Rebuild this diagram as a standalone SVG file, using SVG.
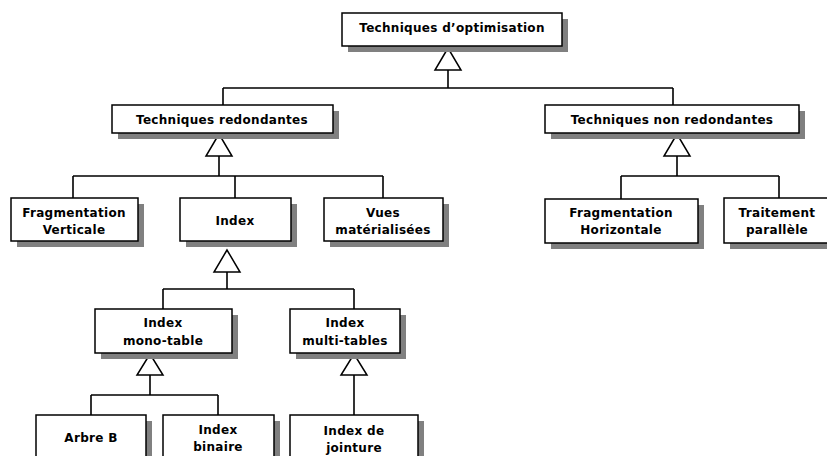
<svg xmlns="http://www.w3.org/2000/svg" width="827" height="456" viewBox="0 0 827 456">
<style>
.box{fill:#fff;stroke:#000;stroke-width:1.5}
.sh{fill:#808080}
.ln{fill:none;stroke:#000;stroke-width:1.6}
.tri{fill:#fff;stroke:#000;stroke-width:1.5}
text{font-family:"DejaVu Sans",Verdana,sans-serif;font-weight:bold;font-size:12px;letter-spacing:0.3px;text-anchor:middle;fill:#000}
</style>
<rect width="827" height="456" fill="#fff"/>
<g id="connectors">
<path class="ln" d="M448,70V88M223,88H673M223,88V105M673,88V105"/>
<polygon class="tri" points="448,48 435,70 461,70"/>
<path class="ln" d="M219,156V176M73,176H383M73,176V198M235,176V198M383,176V198"/>
<polygon class="tri" points="219,134 206,156 232,156"/>
<path class="ln" d="M677,156V176M621,176H779M621,176V199M779,176V198"/>
<polygon class="tri" points="677,134 664,156 690,156"/>
<path class="ln" d="M227,272V289M163,289H354M163,289V309M354,289V309"/>
<polygon class="tri" points="227,250 214,272 240,272"/>
<path class="ln" d="M150,375V395M91,395H218M91,395V415M218,395V415"/>
<polygon class="tri" points="150,354 137,375 163,375"/>
<path class="ln" d="M354,375V415"/>
<polygon class="tri" points="354,354 341,375 367,375"/>
</g>
<g id="n-optim">
<rect class="sh" x="348" y="19" width="220" height="33"/>
<rect class="box" x="342" y="13" width="220" height="33"/>
<text x="452" y="32">Techniques d’optimisation</text>
</g>
<g id="n-red">
<rect class="sh" x="118" y="111" width="221" height="28"/>
<rect class="box" x="112" y="105" width="221" height="28"/>
<text x="222" y="124">Techniques redondantes</text>
</g>
<g id="n-nonred">
<rect class="sh" x="551" y="111" width="254" height="28"/>
<rect class="box" x="545" y="105" width="254" height="28"/>
<text x="672" y="124">Techniques non redondantes</text>
</g>
<g id="n-fv">
<rect class="sh" x="17" y="204" width="127" height="43"/>
<rect class="box" x="11" y="198" width="127" height="43"/>
<text x="74" y="217">Fragmentation</text>
<text x="74" y="234">Verticale</text>
</g>
<g id="n-index">
<rect class="sh" x="186" y="204" width="111" height="43"/>
<rect class="box" x="180" y="198" width="111" height="43"/>
<text x="235" y="225">Index</text>
</g>
<g id="n-vues">
<rect class="sh" x="330" y="204" width="119" height="43"/>
<rect class="box" x="324" y="198" width="119" height="43"/>
<text x="383" y="217">Vues</text>
<text x="383" y="234">matérialisées</text>
</g>
<g id="n-fh">
<rect class="sh" x="551" y="205" width="153" height="44"/>
<rect class="box" x="545" y="199" width="153" height="44"/>
<text x="621" y="217">Fragmentation</text>
<text x="621" y="234">Horizontale</text>
</g>
<g id="n-trait">
<rect class="sh" x="730" y="204" width="110" height="45"/>
<rect class="box" x="724" y="198" width="110" height="45"/>
<text x="777" y="217">Traitement</text>
<text x="777" y="234">parallèle</text>
</g>
<g id="n-mono">
<rect class="sh" x="101" y="315" width="137" height="44"/>
<rect class="box" x="95" y="309" width="137" height="44"/>
<text x="163" y="327">Index</text>
<text x="163" y="345">mono-table</text>
</g>
<g id="n-multi">
<rect class="sh" x="296" y="315" width="110" height="44"/>
<rect class="box" x="290" y="309" width="110" height="44"/>
<text x="345" y="327">Index</text>
<text x="345" y="345">multi-tables</text>
</g>
<g id="n-arbre">
<rect class="sh" x="42" y="421" width="110" height="50"/>
<rect class="box" x="36" y="415" width="110" height="50"/>
<text x="91" y="442">Arbre B</text>
</g>
<g id="n-binaire">
<rect class="sh" x="169" y="421" width="111" height="50"/>
<rect class="box" x="163" y="415" width="111" height="50"/>
<text x="218" y="434">Index</text>
<text x="218" y="451">binaire</text>
</g>
<g id="n-jointure">
<rect class="sh" x="296" y="421" width="128" height="50"/>
<rect class="box" x="290" y="415" width="128" height="50"/>
<text x="354" y="435">Index de</text>
<text x="354" y="452">jointure</text>
</g>
</svg>
